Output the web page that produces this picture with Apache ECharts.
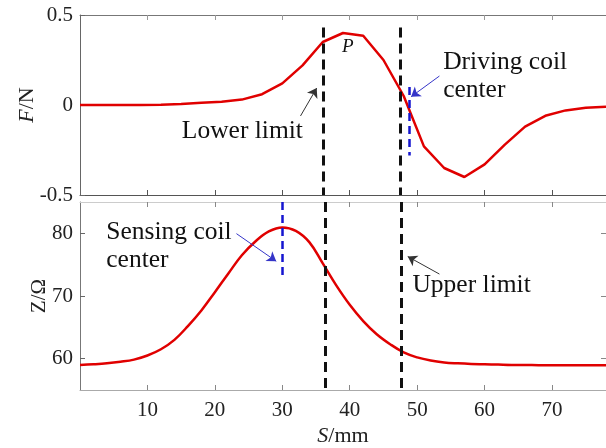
<!DOCTYPE html>
<html>
<head>
<meta charset="utf-8">
<script src="https://cdn.jsdelivr.net/npm/echarts@6/dist/echarts.min.js"></script>
<style>
  html, body { margin: 0; padding: 0; background: #fff; }
  #chart { width: 606px; height: 448px; }
</style>
</head>
<body>
<div id="chart"></div>
<script>
// force F (N) sampled every 3 mm
const forceS = [0, 3, 6, 9, 12, 15, 18, 21, 24, 27, 30, 33, 36, 39, 42, 45, 48, 51, 54, 57, 60, 63, 66, 69, 72, 75, 78];
const forceF = [0, 0, 0, 0, 0.002, 0.006, 0.012, 0.018, 0.03, 0.06, 0.12, 0.22, 0.35, 0.40, 0.385, 0.25, 0.05, -0.23, -0.35, -0.40, -0.33, -0.22, -0.12, -0.06, -0.03, -0.015, -0.01];

// impedance Z (ohm) sampled every 2 mm
const impS = [0, 2, 4, 6, 8, 10, 12, 14, 16, 18, 20, 22, 24, 26, 28, 30, 32, 34, 36, 38, 40, 42, 44, 46, 48, 50, 52, 54, 56, 58, 60, 62, 64, 66, 68, 70, 72, 74, 76, 78];
const impZ = [59.0, 59.1, 59.25, 59.5, 59.85, 60.5, 61.5, 63.0, 65.2, 67.7, 70.6, 73.6, 76.5, 78.7, 80.3, 80.95, 80.4, 78.6, 75.2, 71.7, 68.6, 66.0, 63.9, 62.3, 61.0, 60.2, 59.7, 59.4, 59.25, 59.15, 59.1, 59.05, 59.0, 59.0, 58.95, 58.95, 58.95, 58.95, 58.95, 58.95];

const xTicks = [10, 20, 30, 40, 50, 60, 70];
const fTicks = [-0.5, 0, 0.5];
const zTicks = [60, 70, 80];

// limits and coil centres (mm)
const lowerLimit = [36.0, 36.4];
const upperLimit = [47.45, 47.7];
const drivingCenter = 48.8;
const sensingCenter = 30.0;

const FONT = 'Liberation Serif';
const chart = echarts.init(document.getElementById('chart'));

const tickStyle = (color) => ({ show: true, inside: true, length: 5, customValues: xTicks, lineStyle: { color: color } });

const vline = (x, y1, y2, color, width, dash) => [
  { coord: [x, y1], symbol: 'none', lineStyle: { color: color, width: width, type: dash } },
  { coord: [x, y2], symbol: 'none' }
];
const arrow = (x1, y1, x2, y2, color) => [
  { coord: [x1, y1], symbol: 'none', lineStyle: { color: color, width: 1, type: 'solid' } },
  { coord: [x2, y2], symbol: 'arrow', symbolSize: 9 }
];
const note = (x, y, text, extra) => ({
  coord: [x, y],
  symbol: 'circle', symbolSize: 0,
  label: Object.assign({ show: true, formatter: text, fontFamily: FONT, fontSize: 25.5, color: '#111', position: 'inside', align: 'left', verticalAlign: 'middle', lineHeight: 28 }, extra || {})
});

const option = {
  animation: false,
  grid: [
    { left: 80, right: -1, top: 15, height: 180 },
    { left: 80, right: -1, top: 202, height: 190 }
  ],
  xAxis: [
    { gridIndex: 0, type: 'value', min: 0, max: 78, position: 'bottom',
      axisLine: { show: true, onZero: false, lineStyle: { color: '#555', width: 1 } },
      axisTick: tickStyle('#555'), axisLabel: { show: false }, splitLine: { show: false } },
    { gridIndex: 0, type: 'value', min: 0, max: 78, position: 'top',
      axisLine: { show: true, onZero: false, lineStyle: { color: '#777', width: 1 } },
      axisTick: tickStyle('#999'), axisLabel: { show: false }, splitLine: { show: false } },
    { gridIndex: 1, type: 'value', min: 0, max: 78, position: 'bottom',
      axisLine: { show: true, onZero: false, lineStyle: { color: '#aaa', width: 1 } },
      axisTick: tickStyle('#888'),
      axisLabel: { show: true, customValues: xTicks, margin: 10, fontFamily: FONT, fontSize: 21, color: '#222' },
      splitLine: { show: false },
      name: '{i|S}/mm', nameLocation: 'middle', nameGap: 35, nameMoveOverlap: false,
      nameTextStyle: { fontFamily: FONT, fontSize: 22, color: '#222',
        rich: { i: { fontFamily: FONT, fontSize: 22, fontStyle: 'italic', color: '#222' } } } },
    { gridIndex: 1, type: 'value', min: 0, max: 78, position: 'top',
      axisLine: { show: true, onZero: false, lineStyle: { color: '#ccc', width: 1 } },
      axisTick: tickStyle('#888'), axisLabel: { show: false }, splitLine: { show: false } }
  ],
  yAxis: [
    { gridIndex: 0, type: 'value', min: -0.5, max: 0.5, interval: 0.5, position: 'left',
      axisLine: { show: true, onZero: false, lineStyle: { color: '#666', width: 1 } },
      axisTick: { show: true, inside: true, length: 5, customValues: fTicks, lineStyle: { color: '#666' } },
      axisLabel: { show: true, customValues: fTicks, margin: 7, fontFamily: FONT, fontSize: 21, color: '#222' },
      splitLine: { show: false },
      name: '{i|F}/N', nameLocation: 'middle', nameGap: 42, nameMoveOverlap: false,
      nameTextStyle: { fontFamily: FONT, fontSize: 22, color: '#222',
        rich: { i: { fontFamily: FONT, fontSize: 22, fontStyle: 'italic', color: '#222' } } } },
    { gridIndex: 1, type: 'value', min: 55, max: 85, interval: 5, position: 'left',
      axisLine: { show: true, onZero: false, lineStyle: { color: '#777', width: 1 } },
      axisTick: { show: true, inside: true, length: 5, customValues: zTicks, lineStyle: { color: '#666' } },
      axisLabel: { show: true, customValues: zTicks, margin: 7, fontFamily: FONT, fontSize: 21, color: '#222' },
      splitLine: { show: false },
      name: 'Z/Ω', nameLocation: 'middle', nameGap: 30, nameMoveOverlap: false,
      nameTextStyle: { fontFamily: FONT, fontSize: 21, color: '#222' } },
    { gridIndex: 1, type: 'value', min: 55, max: 85, interval: 5, position: 'right',
      axisLine: { show: true, onZero: false, lineStyle: { color: '#ccc', width: 1 } },
      axisTick: { show: true, inside: true, length: 5, customValues: zTicks, lineStyle: { color: '#888' } },
      axisLabel: { show: false }, splitLine: { show: false } }
  ],
  series: [
    {
      type: 'line', xAxisIndex: 0, yAxisIndex: 0,
      data: forceS.map((s, i) => [s, forceF[i]]),
      showSymbol: false, smooth: false,
      lineStyle: { color: '#e00000', width: 2.5 },
      markLine: {
        silent: true, animation: false, label: { show: false },
        data: [
          vline(lowerLimit[0], 0.43, -0.5, '#111', 3, [10, 6]),
          vline(upperLimit[0], 0.43, -0.5, '#111', 3, [10, 6]),
          vline(drivingCenter, 0.10, -0.28, '#1515d0', 2.5, [8, 5]),
          arrow(32.7, -0.061, 35.1, 0.094, '#333'),
          arrow(53.3, 0.161, 49.1, 0.046, '#3535c8')
        ]
      },
      markPoint: {
        silent: true, animation: false,
        data: [
          note(15.1, -0.145, 'Lower limit'),
          note(39.7, 0.324, 'P', { fontStyle: 'italic', fontSize: 19, align: 'center' }),
          note(53.85, 0.161, 'Driving coil\ncenter')
        ]
      }
    },
    {
      type: 'line', xAxisIndex: 2, yAxisIndex: 1,
      data: impS.map((s, i) => [s, impZ[i]]),
      showSymbol: false, smooth: 0.4,
      lineStyle: { color: '#e00000', width: 2.5 },
      markLine: {
        silent: true, animation: false, label: { show: false },
        data: [
          vline(lowerLimit[1], 85, 55, '#111', 3, [10, 6]),
          vline(upperLimit[1], 85, 55, '#111', 3, [10, 6]),
          vline(sensingCenter, 85, 73.2, '#1515d0', 2.5, [8, 5]),
          arrow(23.2, 79.95, 29.1, 75.55, '#3535c8'),
          arrow(53.3, 73.5, 48.6, 76.3, '#333')
        ]
      },
      markPoint: {
        silent: true, animation: false,
        data: [
          note(3.9, 77.98, 'Sensing coil\ncenter'),
          note(49.3, 71.7, 'Upper limit')
        ]
      }
    }
  ]
};

chart.setOption(option);
</script>
</body>
</html>
